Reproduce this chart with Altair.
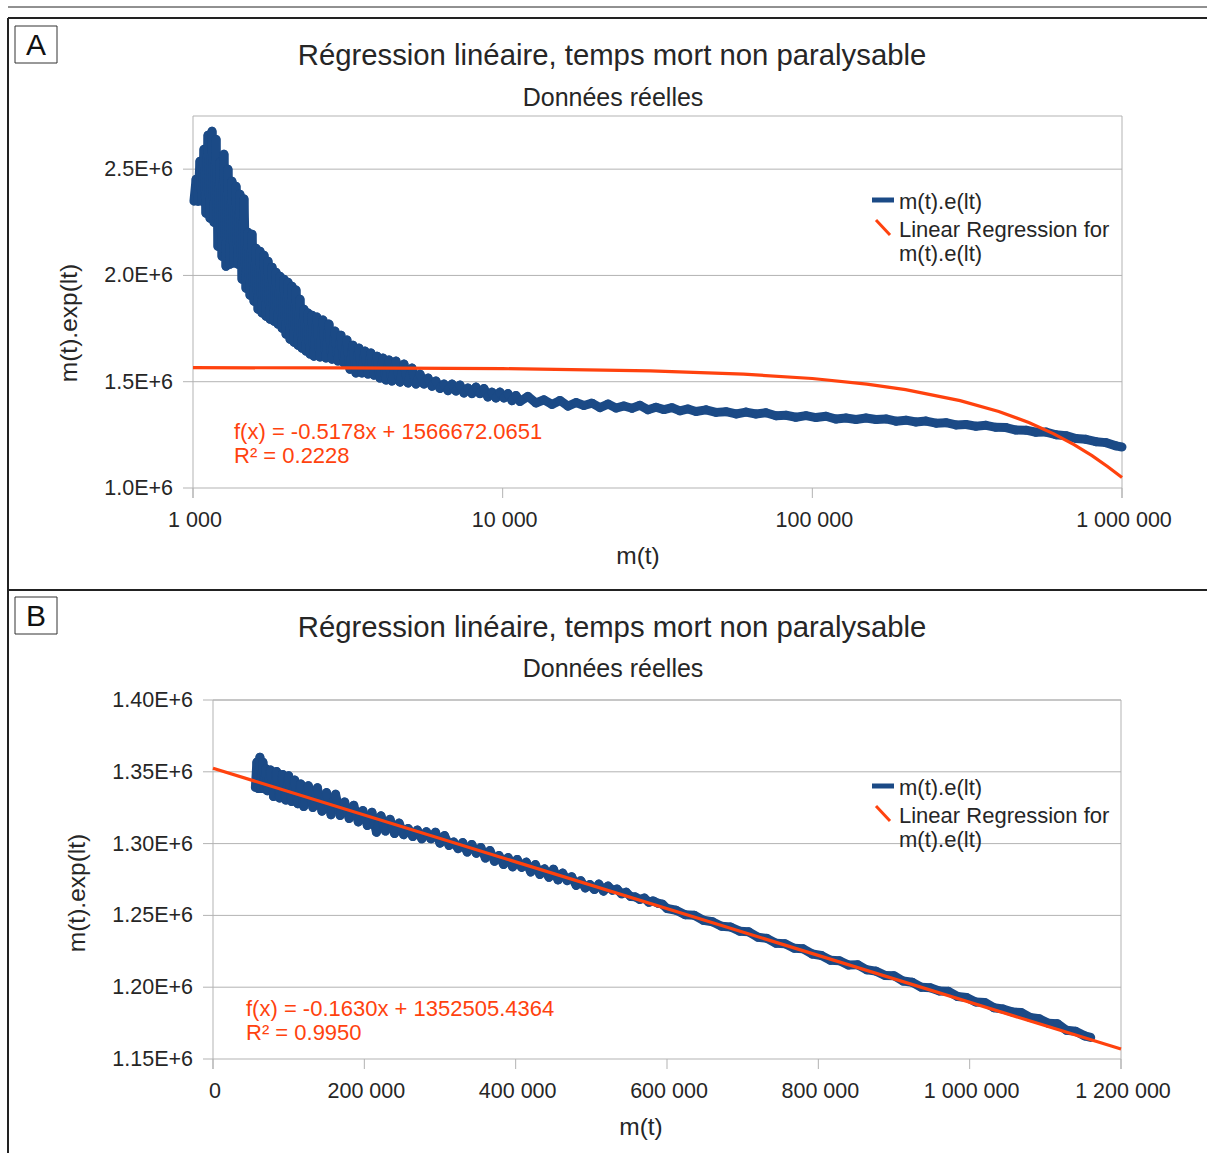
import altair as alt
import pandas as pd

FONT = "Liberation Sans"
BLUE = "#1b4a86"
RED = "#ff420e"
GRID = "#b3b3b3"
INK = "#262626"
FRAME = "#222222"

title_text = "Régression linéaire, temps mort non paralysable"
subtitle_text = "Données réelles"
x_title = "m(t)"
y_title = "m(t).exp(lt)"
legend_series = "m(t).e(lt)"
legend_fit = ["Linear Regression for", "m(t).e(lt)"]
panel_letters = ["A", "B"]

# ---------------- Panel A (log x) ----------------
a_x = [1007, 1023, 1038, 1053, 1069, 1085, 1101, 1118, 1135, 1152, 1169, 1187, 1204, 1222, 1241,
       1259, 1278, 1297, 1317, 1336, 1356, 1377, 1397, 1418, 1440, 1461, 1483, 1505, 1528, 1551,
       1574, 1598, 1622, 1646, 1671, 1696, 1721, 1747, 1773, 1800, 1827, 1854, 1882, 1910, 1939,
       1968, 1997, 2027, 2057, 2088, 2119, 2151, 2183, 2216, 2249, 2283, 2317, 2352, 2387, 2423,
       2459, 2514, 2571, 2629, 2688, 2749, 2811, 2874, 2939, 3005, 3073, 3142, 3213, 3285, 3359,
       3435, 3512, 3592, 3673, 3755, 3840, 3927, 4015, 4106, 4199, 4294, 4391, 4524, 4661, 4802,
       4947, 5096, 5250, 5409, 5572, 5741, 5914,
       6091, 6275, 6464, 6659, 6860, 7067, 7280, 7499, 7726, 7959, 8199, 8446, 8701, 8963, 9234,
       9512, 9799, 10099, 10404, 10718, 11041, 11374,
       12072, 12811, 13597, 14430, 15315, 16254, 17251, 18308, 19430, 20622, 21887, 23228, 24654,
       26162, 27766, 29468, 31273, 33188, 35222, 37378, 39667, 42096,
       45358, 48858, 52631, 56697, 61058, 65768, 70838, 76299, 82188, 88530, 95389, 102750,
       110690, 119230, 128430, 138330, 149020, 160530, 172930, 186270, 200640, 216160, 232810,
       250790, 270170, 291030, 313480, 337670, 363700, 391770, 421980, 454680, 489760, 527600,
       568340, 612060, 659270, 710100, 764860, 823870, 887450, 955850, 1000000]
a_y = [2349000, 2452000, 2349000, 2537000, 2349000, 2593000, 2293000, 2659000, 2269000, 2678000,
       2250000, 2640000, 2137000, 2532000, 2090000, 2570000, 2043000, 2499000, 2053000, 2443000,
       2058000, 2419000, 2053000, 2382000, 1982000, 2360000, 1940000, 2203000, 1907000, 2194000,
       1879000, 2128000, 1841000, 2114000, 1823000, 2095000, 1808000, 2067000, 1794000, 2039000,
       1785000, 2015000, 1771000, 1996000, 1752000, 1982000, 1724000, 1968000, 1700000, 1949000,
       1686000, 1931000, 1672000, 1888000, 1658000, 1841000, 1644000, 1823000, 1630000, 1813000,
       1620000, 1804000, 1616000, 1790000, 1611000, 1771000, 1606000, 1738000, 1597000, 1719000,
       1588000, 1696000, 1559000, 1672000, 1541000, 1658000, 1541000, 1644000, 1536000, 1635000,
       1531000, 1620000, 1517000, 1611000, 1508000, 1602000, 1503000, 1597000, 1498000, 1583000,
       1494000, 1564000, 1489000, 1536000, 1489000, 1517000, 1479000,
       1503000, 1468000, 1489000, 1458000, 1489000, 1456000, 1484000, 1447000, 1470000, 1444000,
       1475000, 1444000, 1468000, 1428000, 1451000, 1423000, 1451000, 1423000, 1444000, 1411000,
       1435000, 1407000,
       1431000, 1400000, 1415000, 1393000, 1412000, 1385000, 1402000, 1388000, 1399000, 1378000,
       1395000, 1376000, 1386000, 1375000, 1389000, 1368000, 1380000, 1369000, 1378000, 1363000,
       1372000, 1360000,
       1367500, 1355800, 1359100, 1348300, 1357200, 1348300, 1353900, 1339800, 1342200, 1332800,
       1340300, 1331400, 1337500, 1324300, 1329000, 1322400, 1329000, 1322000, 1324800, 1314400,
       1319100, 1310700, 1314900, 1305000, 1307400, 1296600, 1298900, 1290500, 1294700, 1285300,
       1284400, 1272600, 1272100, 1262300, 1263000, 1250500, 1246300, 1232700, 1228900, 1217600,
       1213400, 1198300, 1193000]
a_fit_x = [1000, 3000, 10000, 30000, 60000, 100000, 150000, 200000, 300000, 400000, 500000,
           600000, 700000, 800000, 900000, 1000000]
a_fit_y = [1566000, 1565000, 1561500, 1551000, 1535500, 1515000, 1489000, 1463000, 1411000,
           1360000, 1308000, 1256000, 1204000, 1152000, 1100000, 1049000]
a_eq = ["f(x) = -0.5178x + 1566672.0651", "R² = 0.2228"]
a_xticks = [1000, 10000, 100000, 1000000]
a_xlabels = ["1 000", "10 000", "100 000", "1 000 000"]
a_yticks = [1000000, 1500000, 2000000, 2500000]
a_ylabels = ["1.0E+6", "1.5E+6", "2.0E+6", "2.5E+6"]
a_ymax = 2750000

# ---------------- Panel B (linear x) ----------------
b_x = [56000, 58000, 60000, 62000, 64000, 66000, 68000, 70000, 72000, 76000, 80000, 84000, 88000,
       92000, 96000, 100000, 104000, 108000, 112000, 116000, 120000,
       126000, 132000, 138000, 144000, 150000, 156000, 162000, 168000, 174000, 180000,
       186000, 192000, 198000, 204000, 210000, 216000, 222000, 228000, 234000, 240000,
       246000, 252000, 258000, 264000, 270000, 276000, 282000, 288000, 294000, 300000,
       306000, 312000, 318000, 324000, 330000, 336000, 342000, 348000, 354000, 360000,
       366000, 372000, 378000, 384000, 390000, 396000, 402000, 408000, 414000, 420000,
       426000, 432000, 438000, 444000, 450000, 456000, 462000, 468000, 474000, 480000,
       486000, 492000, 498000, 504000, 510000, 516000, 522000, 528000, 534000, 540000,
       546000, 552000, 558000, 564000, 570000, 576000, 582000, 588000, 594000, 600000,
       612000, 624000, 636000, 648000, 660000, 672000, 684000, 696000, 708000, 720000,
       732000, 744000, 756000, 768000, 780000, 792000, 804000, 816000, 828000, 840000,
       852000, 864000, 876000, 888000, 900000, 912000, 924000, 936000, 948000, 960000,
       972000, 984000, 996000, 1008000, 1020000, 1032000, 1044000, 1056000, 1068000, 1080000,
       1092000, 1104000, 1116000, 1128000, 1140000, 1152000, 1160000]
b_y = [1339000, 1356700, 1338300, 1360200, 1338300, 1356700, 1338100, 1352200, 1336800, 1351200,
       1332800, 1350200, 1331800, 1348200, 1330300, 1347200, 1329300, 1344200, 1327800, 1341500,
       1325800,
       1340300, 1325100, 1338900, 1322600, 1335500, 1320100, 1334400, 1319500, 1329000, 1317500,
       1326700, 1315100, 1323000, 1312600, 1321800, 1307900, 1319300, 1308700, 1316900, 1307000,
       1314300, 1306200, 1310500, 1304900, 1309400, 1303300, 1308300, 1303300, 1307900, 1300300,
       1305600, 1298700, 1301100, 1296500, 1300700, 1294100, 1299400, 1293300, 1297300, 1289900,
       1295200, 1287700, 1291700, 1285400, 1290300, 1283800, 1289000, 1283400, 1287100, 1280200,
       1285400, 1278500, 1282400, 1276500, 1282200, 1274700, 1279500, 1274200, 1276900, 1270900,
       1274200, 1269100, 1271500, 1268000, 1271800, 1266900, 1270400, 1267500, 1268400, 1265000,
       1266200, 1263100, 1262900, 1261100, 1262100, 1259100, 1260100, 1258500, 1257800, 1254800,
       1253600, 1250500, 1250100, 1246600, 1245600, 1242400, 1241900, 1239000, 1238600, 1234800,
       1234000, 1230600, 1230200, 1227100, 1226700, 1223100, 1222100, 1218800, 1218400, 1215400,
       1215600, 1212100, 1211200, 1208200, 1208000, 1204300, 1203400, 1200000, 1199600, 1197400,
       1197100, 1193500, 1192800, 1189700, 1189400, 1185700, 1184800, 1182800, 1182400, 1178900,
       1178100, 1174900, 1174600, 1170000, 1169300, 1166100, 1165000]
b_fit_x = [0, 1200000]
b_fit_y = [1352500, 1156900]
b_eq = ["f(x) = -0.1630x + 1352505.4364", "R² = 0.9950"]
b_xticks = [0, 200000, 400000, 600000, 800000, 1000000, 1200000]
b_xlabels = ["0", "200 000", "400 000", "600 000", "800 000", "1 000 000", "1 200 000"]
b_yticks = [1150000, 1200000, 1250000, 1300000, 1350000, 1400000]
b_ylabels = ["1.15E+6", "1.20E+6", "1.25E+6", "1.30E+6", "1.35E+6", "1.40E+6"]
b_ymax = 1400000

ONE = pd.DataFrame({"k": [0]})


def txt(s, x, y, size, color=INK, align="center", angle=0):
    kw = dict(text=s, fontSize=size, color=color, align=align, baseline="middle", font=FONT)
    if angle:
        kw["angle"] = angle
    return alt.Chart(ONE).mark_text(**kw).encode(x=alt.value(x), y=alt.value(y))


def seg(x1, y1, x2, y2, color, w):
    return alt.Chart(ONE).mark_rule(color=color, strokeWidth=w, strokeCap="butt").encode(
        x=alt.value(x1), y=alt.value(y1), x2=alt.value(x2), y2=alt.value(y2))


def box(x1, y1, x2, y2):
    return alt.Chart(ONE).mark_rect(fill="white", stroke="#333333", strokeWidth=1).encode(
        x=alt.value(x1), x2=alt.value(x2), y=alt.value(y1), y2=alt.value(y2))


def segments(xs, ys):
    # consecutive points of the series, joined piece by piece (round caps = round joins)
    return pd.DataFrame({"x": xs[:-1], "x2": xs[1:], "y": ys[:-1], "y2": ys[1:]})


def panel(px, py, fx, fy, xt, xl, yt, yl, ymax, eq, sx, sy, g):
    L, R, T, B = g["L"], g["R"], g["T"], g["B"]
    X = lambda f: alt.X(f + ":Q", scale=sx, axis=None)
    Y = lambda f: alt.Y(f + ":Q", scale=sy, axis=None)
    grid = alt.Chart(pd.DataFrame({"v": yt})).mark_rule(color=GRID, strokeWidth=1).encode(
        y=Y("v"), x=alt.value(L - 10), x2=alt.value(R))
    top = alt.Chart(pd.DataFrame({"v": [ymax]})).mark_rule(color=GRID, strokeWidth=1).encode(
        y=Y("v"), x=alt.value(L), x2=alt.value(R))
    sides = alt.Chart(pd.DataFrame({"v": [xt[0], xt[-1]]})).mark_rule(color=GRID, strokeWidth=1).encode(
        x=X("v"), y=alt.value(T), y2=alt.value(B + 10))
    xtk = alt.Chart(pd.DataFrame({"v": xt})).mark_rule(color=GRID, strokeWidth=1).encode(
        x=X("v"), y=alt.value(B), y2=alt.value(B + 10))
    ylab = alt.Chart(pd.DataFrame({"v": yt, "t": yl})).mark_text(
        align="right", baseline="middle", fontSize=21.5, font=FONT, color=INK, dy=1).encode(
        y=Y("v"), x=alt.value(g["ylab_x"]), text="t:N")
    xlab = alt.Chart(pd.DataFrame({"v": xt, "t": xl})).mark_text(
        align="center", baseline="middle", fontSize=21.5, font=FONT, color=INK, dx=2).encode(
        x=X("v"), y=alt.value(g["xlab_y"]), text="t:N")
    series = alt.Chart(segments(px, py)).mark_rule(
        color=BLUE, strokeWidth=9, strokeCap="round").encode(
        x=X("x"), x2="x2:Q", y=Y("y"), y2="y2:Q")
    fit = alt.Chart(pd.DataFrame({"x": fx, "y": fy})).mark_line(
        color=RED, strokeWidth=3.2).encode(x=X("x"), y=Y("y"))
    data_layers = alt.layer(grid, top, sides, xtk, ylab, xlab, series, fit)
    deco = [
        txt(title_text, 612, g["title_y"], 29.3),
        txt(subtitle_text, 613, g["sub_y"], 25),
        txt(x_title, g["xt_x"], g["xt_y"], 24.5),
        txt(y_title, g["yt_x"], g["yt_y"], 24.5, angle=270),
        seg(872, g["leg_y"], 894, g["leg_y"], BLUE, 5),
        txt(legend_series, 899, g["leg_y"] + 2, 22, align="left"),
        seg(876, g["leg_y"] + 20, 890, g["leg_y"] + 35, RED, 3),
        txt(legend_fit[0], 899, g["leg_y"] + 30, 22, align="left"),
        txt(legend_fit[1], 899, g["leg_y"] + 54, 22, align="left"),
        txt(eq[0], g["eq_x"], g["eq_y"], 22, color=RED, align="left"),
        txt(eq[1], g["eq_x"], g["eq_y"] + 24, 22, color=RED, align="left"),
        box(15, g["box_y"], 57, g["box_y"] + 37),
        txt(g["letter"], 36, g["box_y"] + 20, 30, color="#111111"),
    ]
    return data_layers, deco


sAx = alt.Scale(type="log", domain=[1000, 1000000], range=[193, 1122], nice=False)
sAy = alt.Scale(domain=[1000000, 2750000], range=[488, 116], nice=False, zero=False)
sBx = alt.Scale(domain=[0, 1200000], range=[213, 1121], nice=False, zero=False)
sBy = alt.Scale(domain=[1150000, 1400000], range=[1059, 700], nice=False, zero=False)

gA = dict(L=193, R=1122, T=116, B=488, ylab_x=173, xlab_y=521, title_y=56, sub_y=98,
          xt_x=638, xt_y=557, yt_x=70, yt_y=323, leg_y=200, eq_x=234, eq_y=432, box_y=26,
          letter=panel_letters[0])
gB = dict(L=213, R=1121, T=700, B=1059, ylab_x=193, xlab_y=1092, title_y=628, sub_y=669,
          xt_x=641, xt_y=1128, yt_x=78, yt_y=893, leg_y=786, eq_x=246, eq_y=1009, box_y=597,
          letter=panel_letters[1])

layA, decoA = panel(a_x, a_y, a_fit_x, a_fit_y, a_xticks, a_xlabels, a_yticks, a_ylabels,
                    a_ymax, a_eq, sAx, sAy, gA)
layB, decoB = panel(b_x, b_y, b_fit_x, b_fit_y, b_xticks, b_xlabels, b_yticks, b_ylabels,
                    b_ymax, b_eq, sBx, sBy, gB)

frames = [
    seg(8, 7, 1207, 7, FRAME, 1),
    seg(8, 18, 1207, 18, FRAME, 2),
    seg(8, 590, 1207, 590, FRAME, 2),
    seg(8, 18, 8, 1153, FRAME, 2),
]

chart = alt.layer(layA, layB, *frames, *decoA, *decoB).resolve_scale(
    x="independent", y="independent"
).properties(
    width=1207, height=1153, autosize=alt.AutoSizeParams(type="none"), padding=0,
    background="white"
).configure_view(stroke=None)

chart.save("out.html", embed_options={"renderer": "svg", "actions": False})
